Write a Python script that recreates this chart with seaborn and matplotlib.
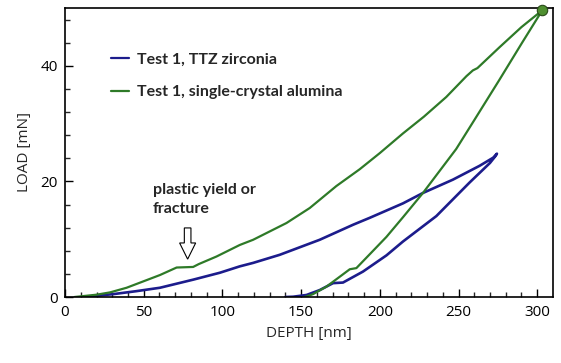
import numpy as np
import pandas as pd
import seaborn as sns
import matplotlib.pyplot as plt

# loading / unloading curves (depth in nm, load in mN)
ttz_depth = [12, 20, 30.7, 45, 60.3, 81.4, 98.4, 111, 119.5, 136.4, 161.8, 183,
             193.6, 214.7, 227.4, 246.4, 263.4, 272, 274.4,
             273.5, 270, 257, 235.9, 214.7, 204.2, 189.3, 176.6, 170.3, 161.8,
             153.4, 144.9, 140]
ttz_load = [0, 0.2, 0.5, 1.0, 1.6, 3.0, 4.2, 5.3, 5.9, 7.3, 9.9, 12.5,
            13.7, 16.2, 18.0, 20.3, 22.7, 24.1, 24.8,
            24.4, 23.2, 19.8, 14.0, 9.6, 7.2, 4.4, 2.5, 2.4, 1.2,
            0.35, 0.05, 0]

alu_depth = [6, 9.5, 20, 28.6, 39.1, 49.7, 60.3, 70.9, 81.4, 85, 96.2, 111,
             119.5, 140.7, 155.5, 172.4, 187.2, 200, 214.7, 228, 242.2, 255,
             259.1, 262, 276, 290, 303.2,
             290.4, 275.8, 260, 248.5, 227.4, 214.7, 204.2, 193.6, 185.1,
             180.9, 174.5, 166.1, 157.6, 153.4, 152]
alu_load = [0, 0.1, 0.4, 0.8, 1.6, 2.7, 3.8, 5.1, 5.2, 5.7, 7.0, 9.0,
            9.9, 12.8, 15.4, 19.2, 22.1, 24.9, 28.3, 31.2, 34.6, 38.2,
            39.2, 39.6, 43.2, 46.7, 49.6,
            44.0, 37.5, 30.6, 25.6, 18.0, 13.8, 10.4, 7.4, 5.0,
            4.8, 3.5, 1.8, 0.5, 0.1, 0]

labels = ["Test 1, TTZ zirconia", "Test 1, single-crystal alumina"]
colors = ["#1c1c8c", "#2e7a28"]

df = pd.concat([
    pd.DataFrame({"depth": ttz_depth, "load": ttz_load, "sample": labels[0]}),
    pd.DataFrame({"depth": alu_depth, "load": alu_load, "sample": labels[1]}),
], ignore_index=True)

sns.set_style("ticks")
plt.rcParams["font.family"] = ["Open Sans", "DejaVu Sans"]

fig, ax = plt.subplots(figsize=(5.61, 3.63), dpi=100)
fig.subplots_adjust(left=0.1159, right=0.9857, top=0.978, bottom=0.1818)

sns.lineplot(data=df, x="depth", y="load", hue="sample", palette=colors,
             sort=False, estimator=None, linewidth=1.6, ax=ax)
ax.lines[0].set_linewidth(1.9)

# max load marker
ax.plot(alu_depth[26], alu_load[26], "o", ms=7.5, mfc="#4f8f30", mec="#2a4a1a",
        mew=0.8, clip_on=False, zorder=5)

ax.set_xlim(0, 310)
ax.set_ylim(0, 50)
ax.set_xticks([0, 50, 100, 150, 200, 250, 300])
ax.set_xticks(np.arange(0, 310, 10), minor=True)
ax.set_yticks([0, 20, 40])
ax.set_yticks(np.arange(0, 51, 4), minor=True)
ax.tick_params(which="major", direction="in", length=6, width=1, labelsize=11,
               colors="black")
ax.tick_params(axis="x", which="major", pad=6)
ax.tick_params(axis="y", which="major", pad=5)
ax.tick_params(which="minor", direction="in", length=3.5, width=1)
for s in ax.spines.values():
    s.set_visible(True)
    s.set_linewidth(1.2)
    s.set_color("black")

ax.set_xlabel("DEPTH [nm]", fontsize=11, labelpad=4)
ax.set_ylabel("LOAD [mN]", fontsize=11, labelpad=6)

leg = ax.legend(loc="upper left", bbox_to_anchor=(0.065, 0.895), frameon=False,
                handlelength=1.1, handletextpad=0.5, labelspacing=1.15,
                prop={"family": "Lato", "weight": "bold", "size": 11.5})

ax.text(55.8, 19.7, "plastic yield or\nfracture", ha="left", va="top",
        fontsize=11.5, fontweight="bold", family="Lato", linespacing=1.45)
ax.arrow(77.9, 11.95, 0, -5.4, width=4.2, head_width=10.2, head_length=2.8,
         length_includes_head=True, fc="white", ec="black", lw=0.8)

fig.savefig("out.png", dpi=100)
